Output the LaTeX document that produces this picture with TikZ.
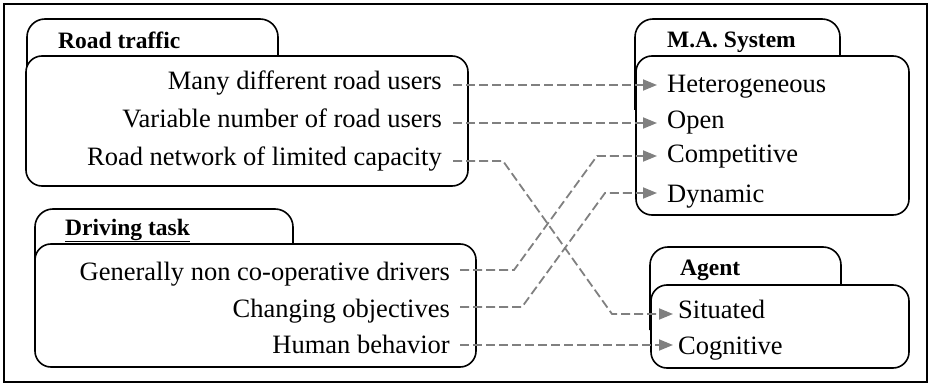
\documentclass[tikz,border=0pt]{standalone}
\usepackage{fontspec}
\setmainfont{Liberation Serif}
\usetikzlibrary{arrows.meta,calc}
\definecolor{conngray}{RGB}{128,128,128}
\begin{document}
\begin{tikzpicture}[x=1pt,y=-1pt,
  frame/.style={line width=1.4pt},
  tab/.style={line width=1.6pt, rounded corners=18pt},
  body/.style={line width=1.6pt, fill=white, rounded corners=16pt},
  title/.style={font=\fontsize{23.5}{26}\selectfont\bfseries, anchor=base west, inner sep=0pt},
  txt/.style={font=\fontsize{26.5}{30}\selectfont, inner ysep=0pt, text depth=0pt},
  conn/.style={draw=conngray, line width=1.8pt, dash pattern=on 9pt off 4pt,
     -{Triangle[length=14pt,width=11pt,fill=conngray]}}]
\useasboundingbox (0,0) rectangle (932,385);
\draw[frame] (4,4) rectangle (927,382);

% Road traffic
\draw[tab] (27,110) -- (27,19) -- (278,19) -- (278,110);
\draw[body] (26,56) rectangle (468,186);
\node[title] (rt) at (58,49) {Road traffic};
\node[txt, text height=10pt, inner xsep=11pt, anchor=east] (many) at (453,85) {Many different road users};
\node[txt, text height=10pt, inner xsep=11pt, anchor=east] (var) at (453,123) {Variable number of road users};
\node[txt, text height=8pt, inner xsep=11pt, anchor=east] (road) at (453,161) {Road network of limited capacity};

% M.A. System
\draw[tab] (635,110) -- (635,19) -- (840,19) -- (840,110);
\draw[body] (636,56) rectangle (909,215);
\node[title] (ma) at (667,48) {M.A. System};
\node[txt, text height=16pt, inner xsep=10pt, anchor=west] (het) at (657,85) {Heterogeneous};
\node[txt, text height=12pt, inner xsep=10pt, anchor=west] (open) at (657,123) {Open};
\node[txt, text height=14pt, inner xsep=10pt, anchor=west] (comp) at (657,156) {Competitive};
\node[txt, text height=18pt, inner xsep=10pt, anchor=west] (dyn) at (657,193) {Dynamic};

% Driving task
\draw[tab] (35,300) -- (35,209) -- (293,209) -- (293,300);
\draw[body] (35,244) rectangle (476,367);
\node[title] (dt) at (65,235) {\underline{Driving task}};
\node[txt, text height=20pt, inner xsep=10pt, anchor=east] (gen) at (460,270) {Generally non co-operative drivers};
\node[txt, text height=20pt, inner xsep=10pt, anchor=east] (chg) at (460,307) {Changing objectives};
\node[txt, text height=16pt, inner xsep=10pt, anchor=east] (hum) at (460,345) {Human behavior};

% Agent
\draw[tab] (650,330) -- (650,247) -- (841,247) -- (841,330);
\draw[body] (651,285) rectangle (909,368);
\node[title] (ag) at (680,275) {Agent};
\node[txt, text height=8pt, inner xsep=5pt, anchor=west] (sit) at (673,314) {Situated};
\node[txt, text height=18pt, inner xsep=5pt, anchor=west] (cog) at (673,345) {Cognitive};

% connectors
\draw[conn] (many.east) -- (het.west);
\draw[conn] (var.east) -- (open.west);
\draw[conn] (road.east) -- ++(50,0) -- ($(sit.west)+(-61,0)$) -- (sit.west);
\draw[conn] (gen.east) -- ++(54,0) -- ($(comp.west)+(-60,0)$) -- (comp.west);
\draw[conn] (chg.east) -- ++(62,0) -- ($(dyn.west)+(-52,0)$) -- (dyn.west);
\draw[conn] (hum.east) -- (cog.west);
\end{tikzpicture}
\end{document}
